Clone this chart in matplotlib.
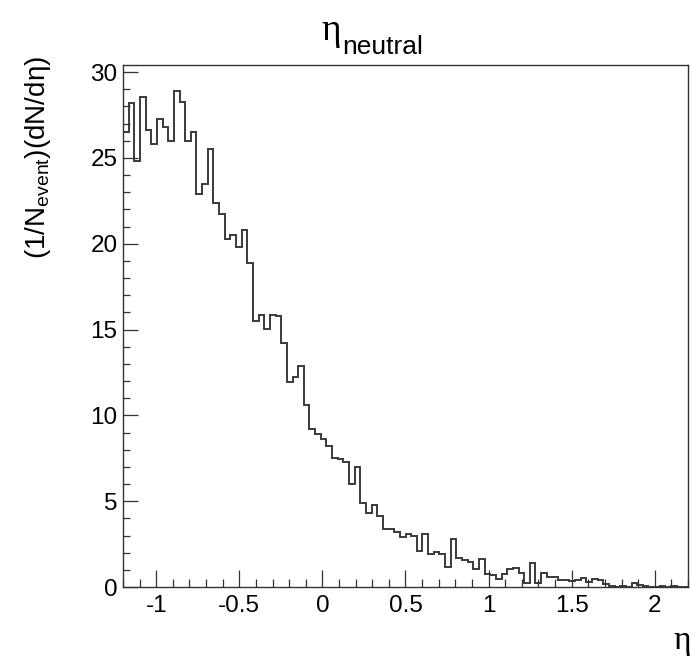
import matplotlib
matplotlib.use("Agg")
import matplotlib.pyplot as plt
import numpy as np
from matplotlib.ticker import MultipleLocator, FormatStrFormatter

# histogram of eta for neutral particles, 100 bins on [-1.2, 2.2]
eta_lo, eta_hi, nbins = -1.2, 2.2, 100
counts = [
    26.5, 28.2, 24.8, 28.55, 26.6, 25.8, 27.25, 26.8, 26.0, 28.9,
    28.25, 26.0, 26.5, 22.9, 23.45, 25.5, 22.35, 21.75, 20.25, 20.5,
    19.8, 20.8, 18.9, 15.5, 15.85, 15.05, 15.85, 15.8, 14.2, 11.95,
    12.25, 12.9, 10.6, 9.2, 8.9, 8.6, 8.2, 7.5, 7.45, 7.3,
    6.0, 7.0, 4.9, 4.3, 4.8, 4.15, 3.4, 3.35, 3.2, 2.9,
    3.1, 3.0, 2.1, 3.1, 1.9, 2.05, 1.95, 1.15, 2.8, 1.7,
    1.6, 1.45, 1.07, 1.65, 0.75, 0.68, 0.46, 0.75, 1.03, 1.09,
    0.8, 0.22, 1.42, 0.22, 0.84, 0.6, 0.57, 0.43, 0.42, 0.37,
    0.4, 0.5, 0.3, 0.45, 0.4, 0.2, 0.08, 0.0, 0.05, 0.0,
    0.22, 0.1, 0.05, 0.0, 0.0, 0.04, 0.0, 0.03, 0.0, 0.0,
]
xticks = [-1, -0.5, 0, 0.5, 1, 1.5, 2]
yticks = [0, 5, 10, 15, 20, 25, 30]

plt.rcParams["font.family"] = ["Liberation Sans", "DejaVu Sans"]
plt.rcParams["axes.unicode_minus"] = False
plt.rcParams["mathtext.fontset"] = "custom"
plt.rcParams["mathtext.rm"] = "Liberation Sans"
plt.rcParams["mathtext.it"] = "Liberation Sans"

W, H = 692, 661
fig = plt.figure(figsize=(W / 100, H / 100), dpi=100)
ax = fig.add_axes([123 / W, 1 - 587 / H, (688 - 123) / W, (587 - 65) / H])

edges = np.linspace(eta_lo, eta_hi, nbins + 1)
ax.stairs(counts, edges, color="#3a3a3a", lw=1.4)

ax.set_xlim(eta_lo, eta_hi)
ax.set_ylim(0, 30.41)
ax.set_xticks(xticks)
ax.set_yticks(yticks)
ax.xaxis.set_minor_locator(MultipleLocator(0.1))
ax.yaxis.set_minor_locator(MultipleLocator(1))
ax.xaxis.set_major_formatter(FormatStrFormatter("%g"))
ax.tick_params(axis="x", which="major", direction="in", length=12, width=0.9,
               labelsize=17.5, pad=6, top=False, color="#333333")
ax.tick_params(axis="x", which="minor", direction="in", length=6, width=0.9,
               top=False, color="#333333")
ax.tick_params(axis="y", which="major", direction="in", length=11, width=0.9,
               labelsize=17.5, pad=4, right=False, color="#333333")
ax.tick_params(axis="y", which="minor", direction="in", length=5, width=0.9,
               right=False, color="#333333")
for s in ax.spines.values():
    s.set_color("#333333")
    s.set_linewidth(1.0)

# title: eta with "neutral" subscript
fig.text(321 / W, 1 - 40 / H, "η", family="Liberation Serif", fontsize=27,
         ha="left", va="baseline")
fig.text(342 / W, 1 - 54 / H, "neutral", fontsize=19, ha="left", va="baseline")

# axis titles
fig.text(38 / W, 1 - 56 / H, r"$\mathregular{(1/N_{event})(dN/d\eta)}$",
         fontsize=20, rotation=90, ha="center", va="top")
fig.text(691 / W, 1 - 649 / H, "η", family="Liberation Serif", fontsize=24,
         ha="right", va="baseline")

fig.savefig("out.png", dpi=100, facecolor="white")
